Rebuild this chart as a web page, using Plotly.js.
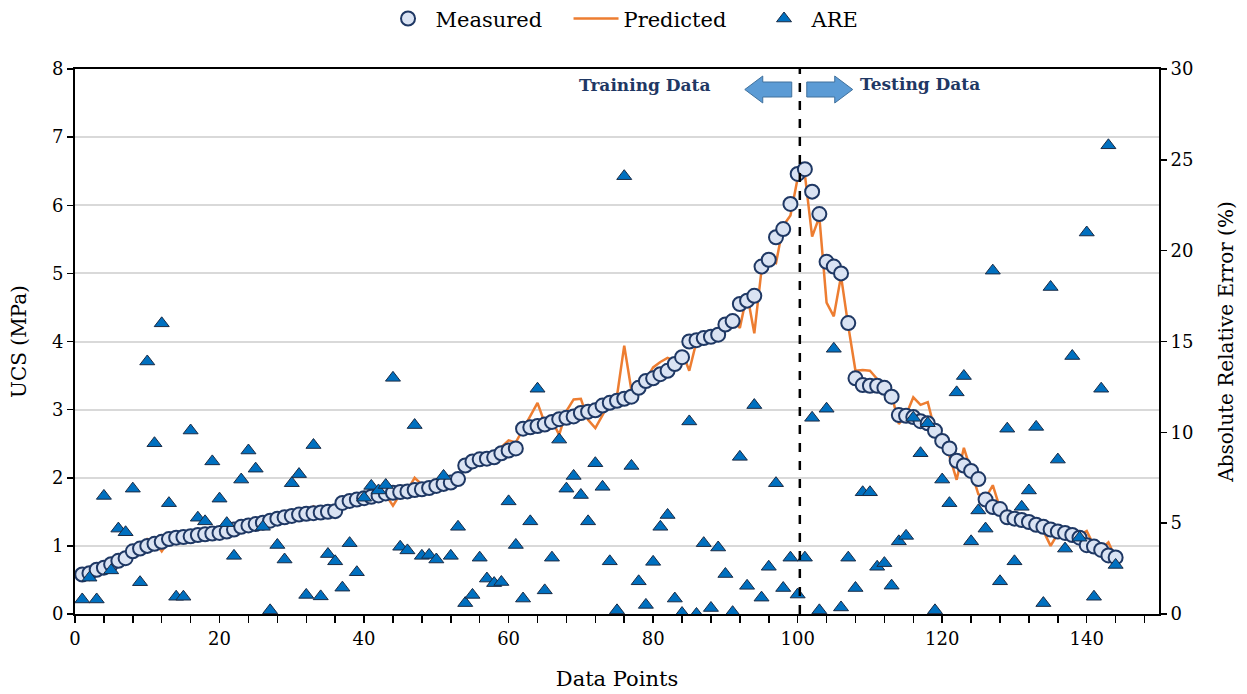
<!DOCTYPE html>
<html>
<head>
<meta charset="utf-8">
<script src="https://cdn.plot.ly/plotly-3.0.1.min.js"></script>
<style>
  html, body { margin: 0; padding: 0; background: #fff; }
  #chart { width: 1247px; height: 694px; }
</style>
</head>
<body>
<div id="chart"></div>
<script>
// Data points 1..144
const measured = [
  0.58,0.60,0.65,0.68,0.73,0.78,0.82,0.92,0.96,1.00,
  1.03,1.06,1.10,1.12,1.13,1.14,1.16,1.17,1.18,1.19,
  1.21,1.24,1.28,1.30,1.32,1.34,1.37,1.40,1.42,1.44,
  1.46,1.47,1.48,1.49,1.50,1.51,1.63,1.66,1.68,1.70,
  1.72,1.74,1.77,1.78,1.79,1.80,1.82,1.83,1.85,1.88,
  1.91,1.93,1.98,2.18,2.24,2.27,2.28,2.30,2.36,2.40,
  2.43,2.72,2.74,2.76,2.78,2.82,2.86,2.88,2.90,2.95,
  2.97,2.99,3.06,3.10,3.13,3.16,3.19,3.32,3.42,3.46,
  3.52,3.57,3.67,3.77,4.00,4.02,4.05,4.07,4.10,4.25,
  4.30,4.55,4.60,4.67,5.10,5.20,5.53,5.65,6.02,6.46,
  6.53,6.20,5.87,5.17,5.10,5.00,4.27,3.46,3.36,3.35,
  3.35,3.32,3.19,2.92,2.91,2.89,2.83,2.80,2.69,2.54,
  2.43,2.25,2.18,2.10,1.98,1.68,1.57,1.54,1.42,1.40,
  1.38,1.35,1.31,1.28,1.24,1.21,1.19,1.16,1.12,1.01,
  0.99,0.94,0.86,0.83
];

const predicted = [
  0.58,0.60,0.66,0.68,0.74,0.80,0.84,0.93,0.98,1.10,
  1.06,0.92,1.08,1.12,1.14,1.16,1.22,1.21,1.25,1.22,
  1.24,1.26,1.30,1.38,1.33,1.35,1.38,1.42,1.44,1.52,
  1.48,1.50,1.58,1.50,1.51,1.53,1.64,1.68,1.70,1.74,
  1.70,1.76,1.75,1.59,1.76,1.82,2.00,1.90,1.86,1.90,
  1.93,1.95,2.00,2.16,2.26,2.28,2.30,2.35,2.45,2.55,
  2.52,2.72,2.90,3.10,2.80,2.84,2.63,2.98,3.15,3.16,
  2.85,2.73,2.92,3.12,3.20,3.94,3.28,3.35,3.44,3.62,
  3.70,3.76,3.72,3.85,3.57,4.00,4.10,4.08,4.16,4.28,
  4.32,4.20,4.70,4.12,5.05,5.18,5.15,5.70,5.85,6.40,
  6.45,5.54,5.83,4.57,4.37,4.96,4.23,3.57,3.58,3.57,
  3.45,3.35,3.22,2.79,2.92,3.18,3.07,3.11,2.69,2.58,
  2.32,1.97,2.44,2.10,1.76,1.70,1.89,1.55,1.45,1.40,
  1.40,1.36,1.30,1.22,1.00,1.18,1.22,1.14,1.16,1.22,
  1.00,0.95,1.05,0.82
];

const are = [
  0.8,2.0,0.8,6.5,2.4,4.7,4.5,6.9,1.75,13.9,
  9.4,16.0,6.1,0.95,0.95,10.1,5.3,5.1,8.4,6.35,
  5.0,3.2,7.4,9.0,8.0,4.8,0.2,3.8,3.0,7.2,
  7.7,1.05,9.3,0.97,3.3,2.9,1.45,3.9,2.3,6.4,
  7.05,6.8,7.1,13.0,3.7,3.5,10.4,3.2,3.25,3.0,
  7.6,3.2,4.8,0.6,1.05,3.1,1.95,1.7,1.76,6.2,
  3.8,0.85,5.1,12.4,1.3,3.1,9.6,6.9,7.6,6.55,
  5.1,8.3,7.0,2.9,0.2,24.1,8.15,1.8,0.5,2.87,
  4.8,5.45,0.85,0.05,10.6,0.0,3.9,0.33,3.66,2.2,
  0.1,8.65,1.55,11.5,0.9,2.6,7.2,1.43,3.1,1.07,
  3.1,10.8,0.2,11.3,14.6,0.36,3.1,1.43,6.7,6.7,
  2.6,2.8,1.56,4.0,4.3,10.8,8.85,10.5,0.2,7.4,
  6.1,12.2,13.1,4.0,5.7,4.7,18.9,1.8,10.2,2.9,
  5.9,6.8,10.3,0.6,18.0,8.5,3.6,14.2,4.2,21.0,
  0.95,12.4,25.8,2.7
];

const pointIndex = measured.map((_, i) => i + 1);
const splitAt = 100.3;
const xTickVals = [0, 20, 40, 60, 80, 100, 120, 140];

const FONT = 'DejaVu Serif, Liberation Serif, serif';
const NAVY = '#1f3864';

const traces = [
  {
    x: pointIndex, y: predicted, type: 'scatter', mode: 'lines', name: 'Predicted',
    line: { color: '#ed7d31', width: 2.5 }, legendrank: 2, yaxis: 'y'
  },
  {
    x: pointIndex, y: measured, type: 'scatter', mode: 'markers', name: 'Measured',
    marker: { symbol: 'circle', size: 14, color: '#dae3f3', line: { color: NAVY, width: 2 } },
    legendrank: 1, yaxis: 'y'
  },
  {
    x: pointIndex, y: are, type: 'scatter', mode: 'markers', name: 'ARE',
    marker: { symbol: 'triangle-up', size: 13, color: '#0070c0', line: { color: '#1a2b45', width: 1 } },
    legendrank: 3, yaxis: 'y2'
  }
];

const layout = {
  width: 1247, height: 694,
  margin: { l: 75, r: 88, t: 69, b: 80, pad: 0, autoexpand: false },
  paper_bgcolor: '#ffffff', plot_bgcolor: '#ffffff',
  font: { family: FONT, color: '#000', size: 17 },
  showlegend: true,
  legend: {
    orientation: 'h', x: 0.542, xanchor: 'center', y: 1.092, yanchor: 'middle',
    font: { family: FONT, size: 21, color: '#000' }, itemwidth: 45, entrywidth: 128
  },
  xaxis: {
    range: [0, 150], tickvals: xTickVals, ticks: 'outside', ticklen: 7, tickwidth: 1.5,
    tickcolor: '#000', showline: true, linecolor: '#000', linewidth: 2, mirror: true,
    showgrid: false, zeroline: false,
    minor: { dtick: 4, tick0: 0, ticks: 'outside', ticklen: 7, tickwidth: 1.5, tickcolor: '#000', showgrid: false },
    tickfont: { family: FONT, size: 18, color: '#000' },
    title: { text: 'Data Points', font: { family: FONT, size: 21, color: '#000' }, standoff: 24 }
  },
  yaxis: {
    range: [0, 8], dtick: 1, tick0: 0, ticks: 'outside', ticklen: 6, tickwidth: 1.5, tickcolor: '#000',
    showline: true, linecolor: '#000', linewidth: 2, showgrid: true, gridcolor: '#d9d9d9', gridwidth: 2,
    zeroline: false, tickfont: { family: FONT, size: 18, color: '#000' },
    title: { text: 'UCS (MPa)', font: { family: FONT, size: 20, color: '#000' }, standoff: 20 }
  },
  yaxis2: {
    range: [0, 30], dtick: 5, tick0: 0, overlaying: 'y', side: 'right', ticks: 'outside', ticklen: 6,
    tickwidth: 1.5, tickcolor: '#000', showline: true, linecolor: '#000', linewidth: 2,
    showgrid: false, zeroline: false, tickfont: { family: FONT, size: 18, color: '#000' },
    title: { text: 'Absolute Relative Error (%)', font: { family: FONT, size: 20, color: '#000' }, standoff: 26 }
  },
  shapes: [
    { type: 'line', xref: 'x', yref: 'paper', x0: splitAt, x1: splitAt, y0: 0, y1: 1,
      line: { color: '#000', width: 2.5, dash: 'dash' } },
    { type: 'path', xref: 'x', yref: 'y',
      path: 'M 99.18,7.809 L 95.17,7.809 L 95.17,7.897 L 92.68,7.699 L 95.17,7.501 L 95.17,7.589 L 99.18,7.589 Z',
      fillcolor: '#5b9bd5', line: { color: '#41719c', width: 1 } },
    { type: 'path', xref: 'x', yref: 'y',
      path: 'M 101.26,7.809 L 105.13,7.809 L 105.13,7.897 L 107.62,7.699 L 105.13,7.501 L 105.13,7.589 L 101.26,7.589 Z',
      fillcolor: '#5b9bd5', line: { color: '#41719c', width: 1 } }
  ],
  annotations: [
    { text: '<b>Training Data</b>', xref: 'x', yref: 'y', x: 78.85, y: 7.76, showarrow: false,
      xanchor: 'center', yanchor: 'middle', font: { family: FONT, size: 17, color: NAVY } },
    { text: '<b>Testing Data</b>', xref: 'x', yref: 'y', x: 116.9, y: 7.78, showarrow: false,
      xanchor: 'center', yanchor: 'middle', font: { family: FONT, size: 17, color: NAVY } }
  ]
};

Plotly.newPlot('chart', traces, layout, { staticPlot: true, displayModeBar: false });
</script>
</body>
</html>
